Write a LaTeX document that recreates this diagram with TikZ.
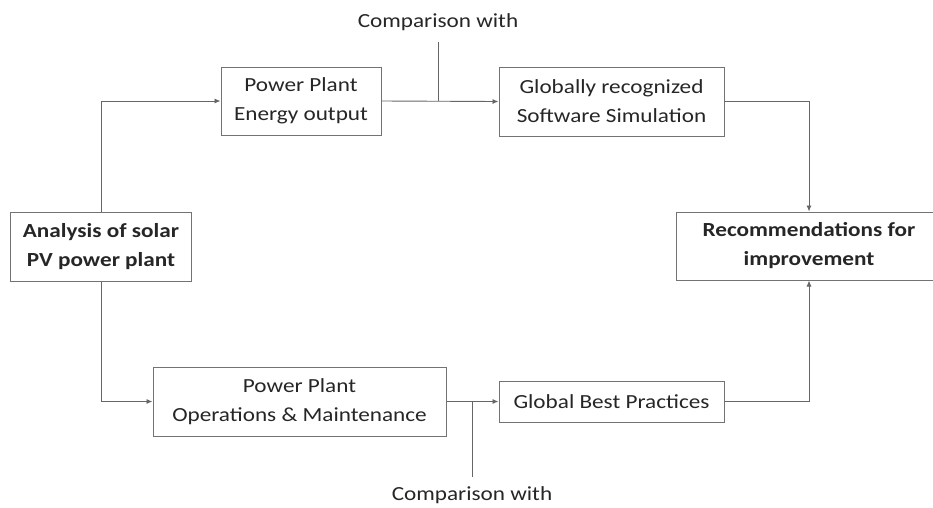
\documentclass[tikz,border=0pt]{standalone}
\usepackage{fontspec}
\setmainfont{Carlito}[FakeStretch=1.16]
\usetikzlibrary{arrows.meta}
\begin{document}
\begin{tikzpicture}[x=1pt,y=-1pt,
  box/.style={draw=black!55, line width=1pt, fill=white, align=center, inner sep=0pt,
    text=black!85, font=\fontsize{20}{29}\selectfont},
  lbl/.style={text=black!85, font=\fontsize{20}{29}\selectfont, inner sep=0pt},
  conn/.style={draw=black!60, line width=0.9pt},
  arr/.style={conn, -{Latex[length=6pt,width=5pt]}}]
\clip (0,0) rectangle (933,507);
\fill[white] (0,0) rectangle (933,507);
\node[box, minimum width=181pt, minimum height=69pt, font=\fontsize{20}{29}\selectfont\bfseries] (an) at (101,246.5) {Analysis of solar\\PV power plant};
\node[box, minimum width=160pt, minimum height=68pt] (eo) at (301,101) {Power Plant\\Energy output};
\node[box, minimum width=225pt, minimum height=69pt] (gs) at (611.5,101.5) {Globally recognized\\Software Simulation};
\node[box, minimum width=266pt, minimum height=68pt, font=\fontsize{20}{29}\selectfont\bfseries] (rec) at (809,246) {Recommendations for\\improvement};
\node[box, minimum width=293pt, minimum height=69pt] (om) at (299.5,401.5) {Power Plant\\Operations \& Maintenance};
\node[box, minimum width=225pt, minimum height=41pt] (gbp) at (611.5,401.5) {Global Best Practices};
\node[lbl] (c1) at (438,22) {Comparison with};
\node[lbl] (c2) at (472,495) {Comparison with};
\coordinate (t1) at (438,42);
\coordinate (t2) at (472,477);
\draw[arr] (an.north) |- (eo.west);
\draw[arr] (an.south) |- (om.west);
\draw[arr] (eo.east) -- (gs.west);
\draw[arr] (om.east) -- (gbp.west);
\draw[conn] (t1) -- (t1 |- eo.east);
\draw[conn] (t2) -- (t2 |- om.east);
\draw[arr] (gs.east) -| (rec.north);
\draw[arr] (gbp.east) -| (rec.south);
\end{tikzpicture}
\end{document}
